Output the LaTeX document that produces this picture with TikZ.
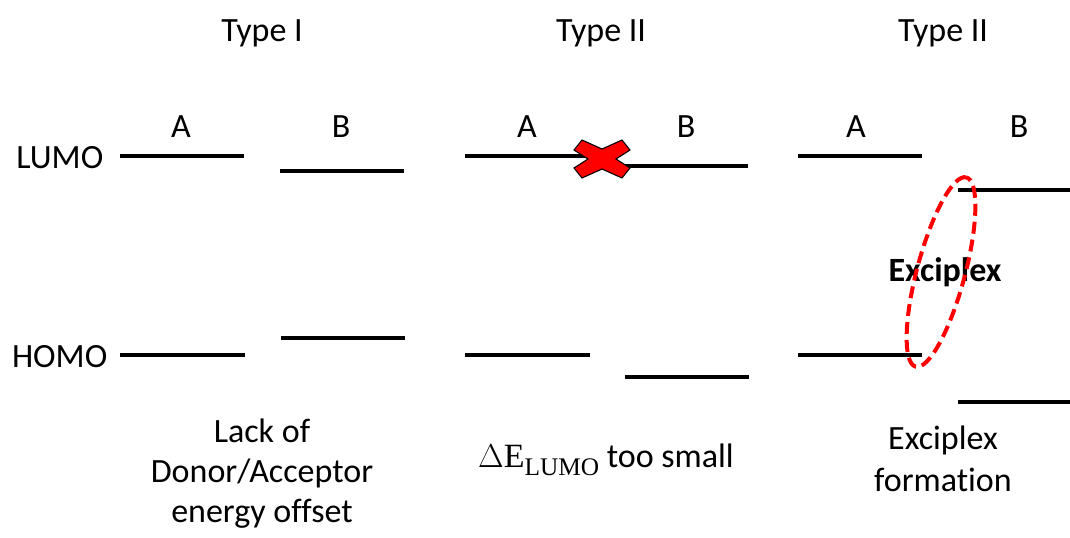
\documentclass[tikz,border=0pt]{standalone}
\usepackage[no-math]{fontspec}
\setmainfont{Carlito}[Ligatures=NoCommon]
\newfontfamily\serifpart{Liberation Serif}
\usetikzlibrary{shapes.geometric}
\tikzset{
  lvl/.style={line width=3.6pt},
  lbl/.style={font=\fontsize{25.5}{31.5}\selectfont},
}
\begin{document}
\begin{tikzpicture}[x=0.75pt,y=-0.75pt]
 \useasboundingbox (0,0) rectangle (1070,537);
 \clip (0,0) rectangle (1070,537);
 % headings
 \node[lbl] (t1) at (262,33) {Type I};
 \node[lbl] (t2) at (601,33) {Type II};
 \node[lbl] (t3) at (943,33) {Type II};
 \node[lbl] (la1) at (181,127) {A};
 \node[lbl] (lb1) at (341,127) {B};
 \node[lbl] (la2) at (527,127) {A};
 \node[lbl] (lb2) at (686,127) {B};
 \node[lbl] (la3) at (856,127) {A};
 \node[lbl] (lb3) at (1019,127) {B};
 \node[lbl,anchor=east] (lumo) at (108,158) {LUMO};
 \node[lbl,anchor=east] (homo) at (112,357) {HOMO};
 % type I
 \draw[lvl](120,156)--(244,156);
 \draw[lvl](280,171)--(404,171);
 \draw[lvl](120,355)--(245,355);
 \draw[lvl](281,338)--(405,338);
 % type II
 \draw[lvl](465,156)--(595,156);
 \draw[lvl](615,166)--(748,166);
 \draw[lvl](465,355)--(590,355);
 \draw[lvl](625,377)--(749,377);
 \draw[fill=red,line width=0.8pt,shift={(602,159)}](-28,-9)--(-20,-19)--(0,-10)--(20,-19)--(28,-9)--(14,0)
   --(28,9)--(20,19)--(0,10)--(-20,19)--(-28,9)--(-14,0)--cycle;
 % type II, exciplex
 \draw[lvl](798,156)--(922,156);
 \draw[lvl](958,190)--(1070,190);
 \draw[lvl](798,355)--(922,355);
 \draw[lvl](958,402)--(1070,402);
 \node[lbl,font=\fontsize{25.5}{31.5}\selectfont\bfseries] (exc) at (945,272) {Exciplex};
 \node[ellipse,draw=red,line width=3pt,dash pattern=on 9pt off 4.5pt,inner sep=0pt,
   minimum width=147pt,minimum height=36pt,rotate=75] (ring) at (941,272) {};
 % captions
 \node[lbl,align=center,font=\fontsize{25.5}{30}\selectfont] (c1) at (262,474) {Lack of\\Donor/Acceptor\\energy offset};
 \node[lbl] (c2) at (606,460) {{\serifpart\(\Delta\)E\raisebox{-0.22em}{\fontsize{19}{20}\selectfont LUMO}} too small};
 \node[lbl,align=center] (c3) at (943,459) {Exciplex\\formation};
\end{tikzpicture}
\end{document}
